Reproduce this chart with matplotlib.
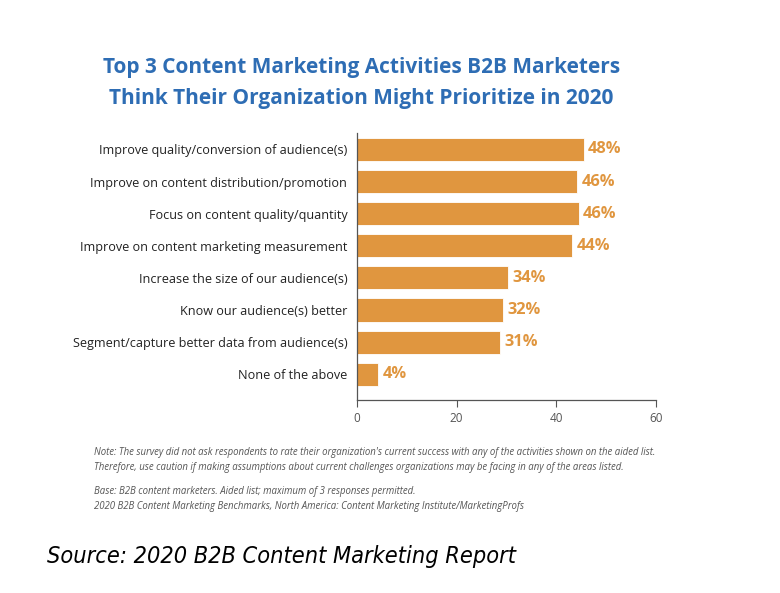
import matplotlib
matplotlib.use('Agg')
import matplotlib.pyplot as plt

# activities, top to bottom
activities = [
    'Improve quality/conversion of audience(s)',
    'Improve on content distribution/promotion',
    'Focus on content quality/quantity',
    'Improve on content marketing measurement',
    'Increase the size of our audience(s)',
    'Know our audience(s) better',
    'Segment/capture better data from audience(s)',
    'None of the above',
]
# printed percentages
pct_labels = [48, 46, 46, 44, 34, 32, 31, 4]
# bar lengths as drawn in the original (they run a bit short of the labels)
bar_lengths = [45.5, 44.2, 44.5, 43.1, 30.3, 29.3, 28.6, 4.2]
xticks = [0, 20, 40, 60]

orange = '#E0963F'
blue = '#2E6DB4'
font = 'Open Sans'

fig = plt.figure(figsize=(7.8, 5.93), dpi=100)
ax = fig.add_axes([0.4577, 0.3255, 0.3833, 0.4502])

ypos = list(range(len(activities)))
ax.barh(ypos, bar_lengths, height=0.72, color=orange, edgecolor='white', linewidth=0.6)
for y, w, p in zip(ypos, bar_lengths, pct_labels):
    ax.text(w + 0.9, y, f'{p}%', va='center', ha='left', color=orange,
            fontsize=11.8, fontweight='bold', family=font)

ax.set_xlim(0, 60)
ax.set_ylim(7.8, -0.51)
ax.set_yticks(ypos)
ax.set_yticklabels(activities, fontsize=9.1, family=font, color='#222222')
ax.tick_params(axis='y', length=0, pad=7)
ax.set_xticks(xticks)
ax.tick_params(axis='x', labelsize=8.5, colors='#555555', length=5, width=0.8, pad=4)
for lab in ax.get_xticklabels():
    lab.set_family(font)
for s in ['top', 'right']:
    ax.spines[s].set_visible(False)
for s in ['left', 'bottom']:
    ax.spines[s].set_color('#555555')
    ax.spines[s].set_linewidth(0.9)

fig.text(0.463, 1 - 83 / 593, 'Top 3 Content Marketing Activities B2B Marketers\nThink Their Organization Might Prioritize in 2020',
         ha='center', va='center', color=blue, fontsize=15, fontweight='bold',
         family=font, linespacing=1.62)

note = ("Note: The survey did not ask respondents to rate their organization's current success with any of the activities shown on the aided list.\n"
        "Therefore, use caution if making assumptions about current challenges organizations may be facing in any of the areas listed.")
base = ("Base: B2B content marketers. Aided list; maximum of 3 responses permitted.\n"
        "2020 B2B Content Marketing Benchmarks, North America: Content Marketing Institute/MarketingProfs")
fig.text(0.121, 1 - 460 / 593, note, ha='left', va='center', fontsize=6.95,
         style='italic', color='#555555', family=font, linespacing=1.5)
fig.text(0.121, 1 - 499 / 593, base, ha='left', va='center', fontsize=6.95,
         style='italic', color='#555555', family=font, linespacing=1.5)

fig.text(0.06, 1 - 557 / 593, 'Source: 2020 B2B Content Marketing Report', ha='left', va='center',
         fontsize=16.8, style='italic', fontstretch='condensed', color='black', family='DejaVu Sans')

fig.savefig('out.png', dpi=100, facecolor='white')
